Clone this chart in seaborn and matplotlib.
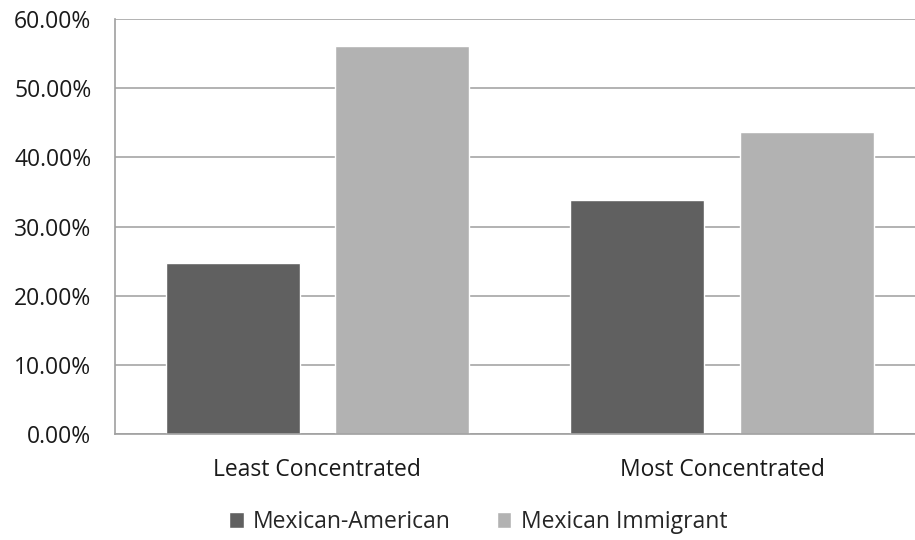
import pandas as pd
import matplotlib.pyplot as plt
import seaborn as sns
from matplotlib.ticker import FuncFormatter

# Values
categories = ['Least Concentrated', 'Most Concentrated']
mexican_american = [0.247, 0.339]
mexican_immigrant = [0.561, 0.437]
series_names = ['Mexican-American', 'Mexican Immigrant']
colors = ['#606060', '#b2b2b2']

df = pd.DataFrame({
    'category': categories * 2,
    'group': [series_names[0]] * 2 + [series_names[1]] * 2,
    'share': mexican_american + mexican_immigrant,
})

sns.set_style('white')
plt.rcParams['font.family'] = ['Open Sans', 'DejaVu Sans']

fig = plt.figure(figsize=(9.15, 5.4), dpi=100)
ax = fig.add_axes([0.1257, 0.1963, 0.8743, 0.7685])

sns.barplot(data=df, x='category', y='share', hue='group', palette=colors,
            width=0.836, gap=0.208, saturation=1, ax=ax, legend=True)

ax.set_ylim(0, 0.6)
ax.set_yticks([i / 10 for i in range(7)])
ax.yaxis.set_major_formatter(FuncFormatter(lambda v, p: f'{v * 100:.2f}%'))
ax.set_xlim(-0.5, 1.477)
ax.grid(axis='y', color='#a6a6a6', linewidth=1.2)
ax.set_axisbelow(True)
ax.set_xlabel('')
ax.set_ylabel('')
ax.tick_params(axis='y', length=0, pad=17, labelsize=16.5, labelcolor='#1a1a1a')
ax.tick_params(axis='x', length=0, pad=17, labelsize=16.5, labelcolor='#1a1a1a')

for side in ['top', 'right']:
    ax.spines[side].set_visible(False)
for side in ['left', 'bottom']:
    ax.spines[side].set_color('#a0a0a0')
    ax.spines[side].set_linewidth(1.2)

handles, labels = ax.get_legend_handles_labels()
ax.legend_.remove()
fig.legend(handles, labels, loc='center', bbox_to_anchor=(478 / 915, 1 - 522 / 540),
           ncol=2, frameon=False, fontsize=16.5, handlelength=0.65, handleheight=0.65,
           handletextpad=0.4, columnspacing=2.0)

fig.savefig('out.png', dpi=100)
